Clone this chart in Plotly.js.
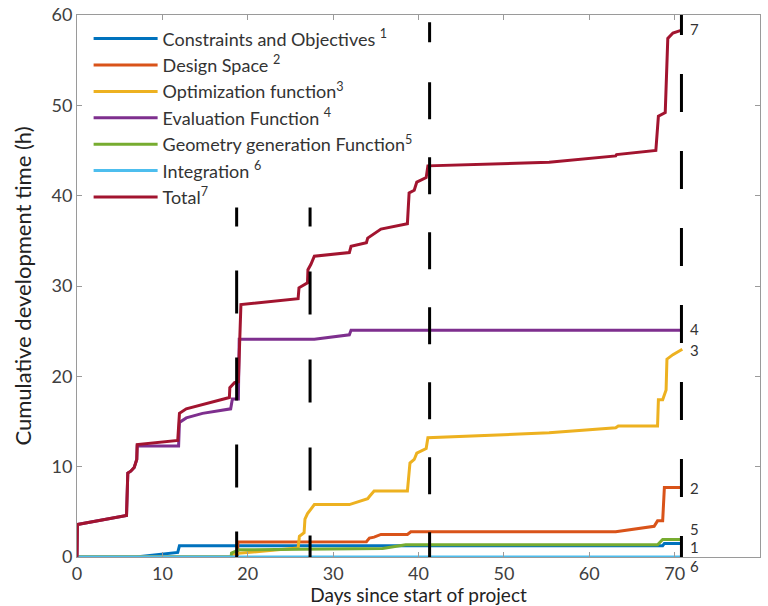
<!DOCTYPE html>
<html>
<head>
<meta charset="utf-8">
<script src="https://cdn.plot.ly/plotly-3.0.1.min.js"></script>
<style>html,body{margin:0;padding:0;background:#fff;}#chart{width:768px;height:606px;}</style>
</head>
<body>
<div id="chart"></div>
<script>
// ---- Data ----
const seriesNames = [
  "Constraints and Objectives <sup>1</sup>",
  "Design Space <sup>2</sup>",
  "Optimization function<sup>3</sup>",
  "Evaluation Function <sup>4</sup>",
  "Geometry generation Function<sup>5</sup>",
  "Integration <sup>6</sup>",
  "Total<sup>7</sup>"
];
const seriesColors = ["#0072BD", "#D95319", "#EDB120", "#7E2F8E", "#77AC30", "#4DBEEE", "#A2142F"];

const constraintsDays = [0, 6.9, 11.8, 12.0, 68.6, 68.8, 70.8];
const constraintsHours = [0, 0, 0.5, 1.25, 1.25, 1.5, 1.5];

const designDays = [0, 18.8, 18.85, 33.9, 34.25, 34.8, 35.6, 38.7, 39.1, 63.1, 67.6, 68.0, 68.6, 68.8, 70.8];
const designHours = [0, 0, 1.65, 1.7, 2.1, 2.2, 2.5, 2.5, 2.8, 2.8, 3.4, 4.0, 4.0, 7.7, 7.7];

const optimDays = [0, 18.1, 18.2, 25.9, 26.05, 26.6, 26.7, 27.0, 27.4, 27.8, 31.9, 33.3, 34.05, 34.25, 34.8, 38.7, 39.0, 39.5, 39.8, 40.9, 41.1, 55.3, 63.1, 63.4, 68.0, 68.1, 68.6, 69.0, 69.1, 69.8, 70.9];
const optimHours = [0, 0, 0.35, 1.0, 2.3, 2.7, 4.2, 4.8, 5.3, 5.8, 5.8, 6.2, 6.45, 6.7, 7.3, 7.3, 10.4, 10.8, 11.5, 12.0, 13.2, 13.75, 14.3, 14.5, 14.5, 17.4, 17.4, 18.5, 21.9, 22.4, 23.0];

const evalDays = [0, 0.05, 5.8, 5.95, 6.3, 6.7, 7.0, 7.05, 11.9, 12.0, 12.8, 14.7, 18.0, 18.2, 18.9, 19.0, 27.8, 31.9, 32.1, 70.8];
const evalHours = [0, 3.6, 4.6, 9.3, 9.5, 9.9, 10.8, 12.3, 12.3, 14.9, 15.4, 15.9, 16.4, 17.5, 17.5, 24.1, 24.1, 24.6, 25.1, 25.1];

const geomDays = [0, 18.05, 18.1, 19.0, 26.0, 35.8, 38.5, 68.0, 68.6, 70.8];
const geomHours = [0, 0, 0.45, 0.8, 0.85, 0.95, 1.35, 1.35, 1.95, 1.95];

const integDays = [0, 70.8];
const integHours = [0, 0];

const totalDays = [0, 0.05, 5.8, 5.95, 6.3, 6.7, 7.0, 7.05, 11.8, 12.0, 12.8, 14.7, 17.85, 17.9, 18.45, 18.9, 19.2, 25.9, 26.0, 27.0, 27.05, 27.4, 27.8, 31.9, 32.1, 33.9, 34.05, 35.6, 38.7, 38.9, 39.5, 39.8, 40.9, 41.1, 55.3, 63.1, 63.2, 67.8, 68.1, 68.9, 69.2, 69.8, 70.75];
const totalHours = [0, 3.6, 4.6, 9.3, 9.5, 9.9, 10.8, 12.45, 12.9, 15.9, 16.4, 16.9, 17.65, 18.75, 19.3, 19.4, 27.95, 28.6, 29.8, 30.35, 31.8, 32.4, 33.3, 33.7, 34.4, 34.8, 35.3, 36.3, 36.9, 40.3, 40.6, 41.5, 42.0, 43.3, 43.7, 44.4, 44.55, 45.0, 48.8, 49.2, 57.4, 58.0, 58.3];

// milestone markers (vertical dashed lines)
const milestoneDays = [18.7, 27.3, 41.3, 70.8];
const milestoneTops = [38.7, 38.7, 59.2, 60];

// end-of-line labels
const endLabels = ["7", "4", "3", "2", "5", "1", "6"];
const endLabelY = [58.4, 25.2, 22.9, 7.6, 3.05, 1.1, 0];

const xTicks = [0, 10, 20, 30, 40, 50, 60, 70, 80];
const yTicks = [0, 10, 20, 30, 40, 50, 60];

// ---- Styling ----
const FONT = "Lato, Open Sans, sans-serif";
const milestoneDash = [
  "19px,44px,43px,44px,43px,44px,43px,44px,43px,44px",
  "19px,45px,43px,45px,43px,45px,43px,45px,43px,45px",
  "20px,40px,37px,38px,37px,38px,37px,38px,37px,38px,37px,38px,37px,38px,37px,38px",
  "20px,39px,38px,39px,38px,39px,38px,39px,38px,39px,38px,39px,38px,39px,38px,39px"
];
const endLabelShift = [0, 0, 0, 0, 0, 0, -9];

const xs = [constraintsDays, designDays, optimDays, evalDays, geomDays, integDays, totalDays];
const ys = [constraintsHours, designHours, optimHours, evalHours, geomHours, integHours, totalHours];

const traces = xs.map((x, i) => ({
  type: "scatter", mode: "lines", x: x, y: ys[i], name: seriesNames[i],
  line: {color: seriesColors[i], width: 3}, hoverinfo: "skip"
}));

milestoneDays.forEach((d, i) => {
  traces.push({
    type: "scatter", mode: "lines", x: [d, d], y: [milestoneTops[i], 0],
    line: {color: "#000", width: 3, dash: milestoneDash[i]},
    showlegend: false, hoverinfo: "skip"
  });
});

const annotations = endLabels.map((t, i) => ({
  x: 71.7, y: endLabelY[i], xref: "x", yref: "y", text: t, showarrow: false,
  xanchor: "left", yanchor: "middle", yshift: endLabelShift[i], borderpad: 0,
  font: {family: FONT, size: 15, color: "#333"}
}));

const axisCommon = {
  showgrid: false, zeroline: false, showline: true, linecolor: "#9a9a9a", linewidth: 1,
  mirror: "ticks", ticks: "inside", ticklen: 5, tickcolor: "#9a9a9a", tickwidth: 1,
  tickfont: {family: FONT, size: 18, color: "#404040"}
};

const layout = {
  width: 768, height: 606,
  margin: {l: 77, r: 8, t: 15, b: 49},
  paper_bgcolor: "#fff", plot_bgcolor: "#fff",
  font: {family: FONT, color: "#333"},
  xaxis: Object.assign({}, axisCommon, {
    range: [0, 80], tickvals: xTicks, ticktext: xTicks.map(String),
    title: {text: "Days since start of project", font: {family: FONT, size: 19, color: "#222"}, standoff: 2}
  }),
  yaxis: Object.assign({}, axisCommon, {
    range: [0, 60], tickvals: yTicks, ticktext: yTicks.map(String),
    title: {text: "Cumulative development time (h)", font: {family: FONT, size: 22, color: "#222"}, standoff: 13}
  }),
  legend: {
    x: 0.017, y: 0.99, xanchor: "left", yanchor: "top", bgcolor: "rgba(255,255,255,0)",
    borderwidth: 0, itemwidth: 64, tracegroupgap: 0,
    font: {family: FONT, size: 18, color: "#333"}
  },
  annotations: annotations,
  showlegend: true
};

Plotly.newPlot("chart", traces, layout, {staticPlot: true, displayModeBar: false});
</script>
</body>
</html>
